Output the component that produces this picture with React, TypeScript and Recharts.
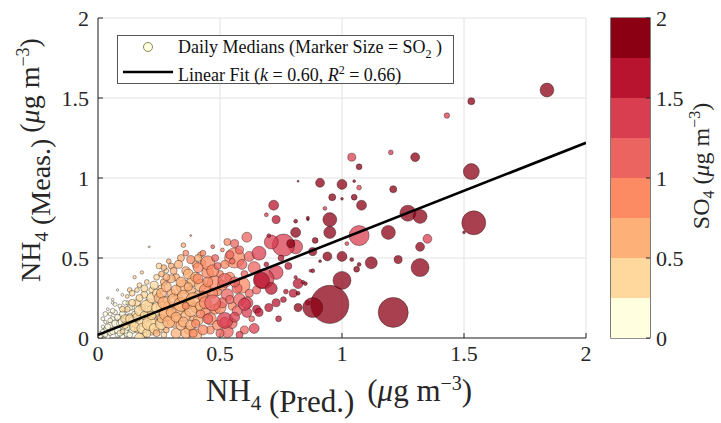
import React from 'react';
import {
  ScatterChart, Scatter, XAxis, YAxis, ZAxis, CartesianGrid, Cell,
  BarChart, Bar, ReferenceArea,
} from 'recharts';

// ---------- data: [NH4 predicted, NH4 measured, SO4, SO2] ----------
const cream = [
  [0.01,0.03,0.05,0.03],[0.02,0.02,0.06,0.04],[0.02,0.07,0.07,0.03],[0.03,0.05,0.08,0.06],
  [0.03,0.10,0.08,0.03],[0.04,0.01,0.10,0.06],[0.04,0.18,0.10,0.02],[0.05,0.08,0.12,0.09],
  [0.05,0.03,0.12,0.06],[0.05,0.15,0.12,0.04],[0.06,0.12,0.14,0.06],[0.06,0.24,0.14,0.02],
  [0.07,0.05,0.15,0.09],[0.07,0.16,0.15,0.06],[0.08,0.02,0.16,0.06],[0.08,0.09,0.16,0.13],
  [0.09,0.13,0.18,0.09],[0.09,0.20,0.18,0.04],[0.10,0.06,0.19,0.09],[0.10,0.01,0.19,0.06],
  [0.11,0.10,0.20,0.09],[0.11,0.17,0.20,0.06],[0.12,0.03,0.21,0.13],[0.12,0.22,0.21,0.04],
  [0.13,0.08,0.22,0.09],[0.13,0.14,0.22,0.06],[0.14,0.05,0.23,0.13],[0.14,0.19,0.23,0.06],
  [0.15,0.11,0.24,0.09],[0.06,0.22,0.14,0.02],[0.04,0.25,0.10,0.015],[0.10,0.27,0.19,0.02],
  [0.08,0.30,0.16,0.015],[0.02,0.12,0.06,0.04],[0.03,0.15,0.07,0.06],[0.04,0.07,0.09,0.09],
  [0.05,0.11,0.11,0.06],[0.06,0.04,0.13,0.09],[0.06,0.17,0.13,0.06],[0.07,0.09,0.15,0.13],
  [0.07,0.21,0.15,0.04],[0.08,0.13,0.17,0.09],[0.08,0.05,0.17,0.13],[0.09,0.03,0.18,0.09],
  [0.09,0.09,0.18,0.13],[0.10,0.15,0.20,0.09],[0.11,0.05,0.21,0.13],[0.11,0.22,0.22,0.06],
  [0.12,0.12,0.22,0.17],[0.13,0.02,0.23,0.09],[0.13,0.19,0.23,0.09],[0.14,0.11,0.24,0.13],
  [0.03,0.02,0.07,0.06],[0.01,0.01,0.05,0.04],[0.02,0.04,0.06,0.06],[0.10,0.10,0.19,0.17],
  [0.12,0.07,0.21,0.13],
];
const lightPeach = [
  [0.10,0.04,0.30,0.06],[0.12,0.18,0.32,0.09],[0.13,0.30,0.34,0.06],[0.14,0.09,0.34,0.13],
  [0.15,0.15,0.36,0.09],[0.16,0.22,0.38,0.13],[0.16,0.05,0.36,0.09],[0.17,0.33,0.38,0.06],
  [0.18,0.11,0.40,0.38],[0.18,0.19,0.40,0.13],[0.19,0.02,0.40,0.09],[0.19,0.27,0.42,0.13],
  [0.20,0.08,0.42,0.17],[0.20,0.35,0.42,0.06],[0.21,0.14,0.44,0.26],[0.21,0.22,0.44,0.17],
  [0.22,0.04,0.44,0.13],[0.22,0.30,0.46,0.09],[0.23,0.17,0.46,0.51],[0.23,0.10,0.46,0.13],
  [0.24,0.38,0.48,0.09],[0.25,0.06,0.48,0.17],[0.25,0.13,0.48,0.09],[0.26,0.20,0.48,0.26],
  [0.26,0.31,0.49,0.13],[0.27,0.02,0.49,0.09],[0.28,0.24,0.49,0.13],[0.28,0.42,0.48,0.06],
  [0.15,0.38,0.36,0.03],[0.12,0.26,0.32,0.04],[0.18,0.41,0.40,0.03],[0.21,0.57,0.44,0.01],
  [0.11,0.12,0.28,0.17],[0.17,0.00,0.38,0.26],[0.13,0.12,0.30,0.17],[0.14,0.22,0.33,0.13],
  [0.15,0.07,0.34,0.26],[0.16,0.13,0.36,0.17],[0.17,0.17,0.38,0.26],[0.17,0.25,0.38,0.13],
  [0.18,0.06,0.40,0.26],[0.19,0.14,0.41,0.17],[0.19,0.31,0.42,0.13],[0.20,0.20,0.43,0.38],
  [0.20,0.03,0.42,0.17],[0.21,0.09,0.44,0.51],[0.22,0.25,0.45,0.26],[0.22,0.14,0.45,0.17],
  [0.23,0.33,0.46,0.17],[0.23,0.06,0.47,0.26],[0.24,0.19,0.47,0.26],[0.24,0.28,0.47,0.17],
  [0.25,0.45,0.48,0.09],[0.26,0.09,0.49,0.38],[0.27,0.16,0.49,0.26],[0.14,0.28,0.33,0.09],
  [0.16,0.30,0.36,0.06],[0.10,0.18,0.28,0.09],[0.11,0.08,0.29,0.13],
];
const peach = [
  [0.31,0.11,0.60,0.51],[0.32,0.03,0.62,0.26],[0.24,0.03,0.52,0.13],[0.26,0.12,0.55,0.17],
  [0.27,0.35,0.56,0.13],[0.28,0.05,0.58,0.09],[0.29,0.20,0.60,0.26],[0.30,0.28,0.62,0.17],
  [0.30,0.45,0.62,0.09],[0.32,0.38,0.64,0.13],[0.33,0.18,0.66,0.38],[0.33,0.25,0.66,0.17],
  [0.34,0.08,0.66,0.26],[0.34,0.50,0.68,0.13],[0.35,0.32,0.68,0.51],[0.36,0.14,0.70,0.26],
  [0.36,0.42,0.70,0.17],[0.37,0.22,0.70,0.38],[0.37,0.05,0.72,0.17],[0.38,0.29,0.72,0.26],
  [0.39,0.12,0.72,0.13],[0.39,0.36,0.74,0.38],[0.40,0.19,0.74,0.26],[0.40,0.46,0.74,0.13],
  [0.41,0.27,0.74,0.17],[0.42,0.52,0.74,0.09],[0.27,0.44,0.56,0.09],[0.29,0.48,0.58,0.06],
  [0.41,0.50,0.72,0.13],[0.43,0.47,0.73,0.09],[0.25,0.25,0.54,0.26],[0.28,0.15,0.58,0.51],
  [0.35,0.58,0.70,0.06],[0.26,0.28,0.52,0.26],[0.27,0.22,0.53,0.38],[0.28,0.32,0.55,0.26],
  [0.29,0.10,0.57,0.38],[0.30,0.16,0.59,0.26],[0.30,0.37,0.60,0.17],[0.31,0.24,0.61,0.38],
  [0.31,0.42,0.61,0.13],[0.32,0.13,0.62,0.26],[0.32,0.30,0.63,0.26],[0.33,0.46,0.64,0.17],
  [0.34,0.21,0.65,0.51],[0.34,0.35,0.66,0.26],[0.35,0.10,0.67,0.26],[0.35,0.26,0.67,0.38],
  [0.36,0.03,0.69,0.26],[0.37,0.40,0.69,0.26],[0.37,0.32,0.70,0.17],[0.38,0.17,0.71,0.38],
  [0.38,0.08,0.71,0.26],[0.39,0.24,0.72,0.51],[0.40,0.38,0.73,0.26],[0.40,0.02,0.73,0.38],
  [0.41,0.11,0.74,0.26],[0.42,0.33,0.74,0.38],[0.42,0.20,0.74,0.26],[0.28,0.38,0.55,0.13],
  [0.26,0.40,0.52,0.09],
];
const salmon = [
  [0.56,0.50,0.85,1.05],[0.59,0.33,0.78,0.67],[0.48,0.34,0.80,0.67],[0.44,0.30,0.78,0.38],
  [0.45,0.41,0.82,0.38],[0.45,0.47,0.80,0.51],[0.38,0.49,0.76,0.17],[0.51,0.55,0.90,0.04],
  [0.38,0.64,0.80,0.01],[0.44,0.16,0.82,0.26],[0.40,0.09,0.78,0.17],[0.41,0.37,0.80,0.26],
  [0.42,0.15,0.85,0.17],[0.43,0.26,0.88,0.26],[0.46,0.05,0.90,0.17],[0.48,0.18,0.92,0.26],
  [0.49,0.29,0.95,0.17],[0.50,0.40,0.96,0.13],[0.36,0.20,0.76,0.13],[0.39,0.03,0.80,0.17],
  [0.55,0.20,0.95,0.17],[0.43,0.53,0.85,0.09],[0.44,0.22,0.78,0.38],[0.45,0.35,0.80,0.26],
  [0.46,0.12,0.82,0.38],[0.47,0.28,0.85,0.26],[0.47,0.42,0.86,0.38],[0.49,0.08,0.88,0.26],
  [0.50,0.19,0.90,0.38],[0.51,0.33,0.92,0.26],[0.52,0.46,0.94,0.17],[0.54,0.38,0.96,0.26],
  [0.43,0.05,0.78,0.26],[0.41,0.44,0.77,0.26],[0.53,0.60,0.90,0.13],[0.36,0.53,0.76,0.09],
];
const coral = [
  [0.61,0.63,1.10,0.26],[0.64,0.44,1.20,0.38],[0.53,0.27,1.10,0.38],[0.52,0.36,1.05,0.51],
  [0.51,0.22,1.15,0.26],[0.47,0.22,1.10,0.67],[0.54,0.24,1.05,0.17],[0.53,0.04,1.20,0.38],
  [0.52,0.10,1.15,0.26],[0.50,0.03,1.10,0.17],[0.47,0.57,1.00,0.04],[0.56,0.59,1.10,0.17],
  [0.58,0.55,1.12,0.17],[0.60,0.40,1.18,0.13],[0.57,0.31,1.08,0.26],[0.62,0.28,1.22,0.17],
  [0.49,0.45,1.05,0.13],[0.45,0.12,1.02,0.26],[0.55,0.48,1.15,0.09],[0.63,0.12,1.22,0.09],
  [0.55,0.09,1.05,0.26],[0.56,0.35,1.08,0.26],[0.58,0.24,1.12,0.38],[0.59,0.46,1.15,0.26],
  [0.60,0.05,1.15,0.17],[0.62,0.51,1.20,0.26],[0.54,0.52,1.06,0.17],[0.57,0.17,1.10,0.26],
  [0.65,0.30,1.22,0.17],[0.48,0.50,1.02,0.13],
];
const rose = [
  [1.43,1.39,1.40,0.08],[1.20,1.16,1.38,0.06],[1.04,1.13,1.42,0.17],[1.07,0.94,1.45,0.06],
  [0.93,0.81,1.45,0.04],[1.07,0.64,1.45,1.05],[1.35,0.62,1.40,0.21],[1.02,0.59,1.45,0.04],
  [0.81,0.57,1.40,0.51],[0.87,0.42,1.45,0.02],[0.76,0.58,1.40,1.30],[0.69,0.77,1.48,0.04],
  [0.66,0.53,1.45,0.51],[0.73,0.41,1.30,0.51],[0.71,0.60,1.32,0.51],[0.68,0.37,1.30,1.05],
  [0.61,0.22,1.45,0.38],[0.61,0.16,1.40,0.26],[0.60,0.21,1.38,0.38],[0.52,0.11,1.35,0.67],
  [0.64,0.06,1.32,0.26],[0.58,0.02,1.30,0.13],[0.56,0.13,1.28,0.26],
];
const crimson = [
  [0.72,0.83,1.62,0.26],[0.73,0.74,1.60,0.17],[0.70,0.64,1.55,0.04],[0.71,0.31,1.58,0.38],
  [0.82,0.34,1.70,0.26],[0.76,0.24,1.62,0.09],[0.70,0.19,1.60,0.17],[0.65,0.18,1.52,0.17],
  [0.84,0.35,1.72,0.03],[0.81,0.38,1.70,0.03],[0.80,0.28,1.66,0.17],[0.73,0.22,1.62,0.17],
  [0.66,0.16,1.55,0.17],[0.67,0.36,1.55,0.67],[0.78,0.45,1.65,0.13],[0.75,0.50,1.60,0.09],
  [0.69,0.46,1.56,0.06],[0.77,0.29,1.66,0.06],[0.74,0.12,1.60,0.09],[0.86,0.22,1.72,0.06],
];
const darkRed = [
  [1.84,1.55,1.92,0.50],[1.53,1.48,1.85,0.13],[1.30,1.13,1.85,0.21],[1.07,1.07,1.80,0.09],
  [1.53,1.04,1.90,0.67],[0.91,0.97,1.82,0.21],[1.00,0.96,1.85,0.26],[1.05,0.98,1.78,0.02],
  [1.21,0.93,1.85,0.13],[0.96,0.88,1.80,0.13],[1.00,0.87,1.78,0.02],[1.05,0.88,1.80,0.09],
  [1.08,0.83,1.88,0.26],[0.86,0.74,1.76,0.015],[0.95,0.74,1.86,0.51],[1.27,0.78,1.90,0.67],
  [1.32,0.76,1.86,0.51],[1.54,0.72,1.92,1.50],[1.19,0.66,1.84,0.51],[0.95,0.66,1.80,0.38],
  [1.50,0.66,1.80,0.02],[1.32,0.57,1.85,0.21],[0.89,0.61,1.78,0.09],[0.88,0.54,1.76,0.17],
  [0.94,0.51,1.80,0.21],[1.00,0.51,1.85,0.26],[1.04,0.49,1.80,0.04],[0.91,0.48,1.78,0.02],
  [1.07,0.46,1.80,0.04],[1.06,0.43,1.80,0.09],[1.12,0.47,1.85,0.38],[1.23,0.49,1.85,0.17],
  [1.32,0.44,1.90,0.85],[0.88,0.42,1.76,0.04],[1.00,0.36,1.90,0.85],[0.85,0.34,1.76,0.04],
  [0.95,0.21,1.95,3.80],[0.88,0.19,1.90,1.05],[1.21,0.16,1.95,2.36],[0.82,0.19,1.80,0.17],
  [0.82,0.98,1.80,0.01],[0.81,0.66,1.78,0.26],[0.81,0.73,1.78,0.04],[0.82,0.28,1.76,0.04],
  [0.86,0.75,1.78,0.03],[0.79,0.59,1.76,0.17],
];

const axisTicks = [0, 0.5, 1, 1.5, 2];
const fitK = 0.60;
const fitB = 0.02;
const fitR2 = 0.66;
const fitRange = [0, 2];
const so4Edges = [0, 0.25, 0.5, 0.75, 1, 1.25, 1.5, 1.75, 2];
const so4Colors = ['#FFFFE0', '#FED89C', '#FDB077', '#FC8A63', '#EC6460', '#D93E50', '#B8142F', '#8C0014'];

// ---------- derived tables ----------
const allGroups = [cream, lightPeach, peach, salmon, coral, rose, crimson, darkRed];
const points = allGroups.flat().map(([pred, meas, so4, so2]) => ({ pred, meas, so4, so2 }));
const fitLine = fitRange.map((x) => ({ pred: x, meas: fitB + fitK * x, so2: 0 }));
const colorFor = (v: number) => {
  for (let i = so4Colors.length - 1; i >= 0; i--) if (v >= so4Edges[i]) return so4Colors[i];
  return so4Colors[0];
};
const cbRow: Record<string, number | string> = { name: 'cb' };
so4Colors.forEach((_, i) => { cbRow['s' + i] = so4Edges[i + 1] - so4Edges[i]; });
const cbData = [cbRow];

const FONT = '"Liberation Serif", "DejaVu Serif", serif';
const INK = '#262626';
const tickStyle = { fill: INK, fontSize: 22, fontFamily: FONT };

export default function App() {
  return (
    <div style={{ position: 'absolute', left: 0, top: 0, width: 721, height: 423, background: '#fff', overflow: 'hidden' }}>
      <div style={{ position: 'absolute', left: 0, top: 0 }}>
        <ScatterChart width={721} height={423} margin={{ top: 18, right: 135, bottom: 55, left: 0 }}>
          <CartesianGrid stroke="#e2e2e2" strokeWidth={1} />
          <XAxis type="number" dataKey="pred" domain={[0, 2]} ticks={axisTicks} height={30}
            tickSize={-5} tickMargin={12} axisLine={{ stroke: INK }} tickLine={{ stroke: INK }}
            tick={tickStyle} tickFormatter={(v) => String(v)} allowDataOverflow />
          <YAxis type="number" dataKey="meas" domain={[0, 2]} ticks={axisTicks} width={98}
            tickSize={-5} tickMargin={14} axisLine={{ stroke: INK }} tickLine={{ stroke: INK }}
            tick={tickStyle} tickFormatter={(v) => String(v)} allowDataOverflow />
          <XAxis xAxisId="top" orientation="top" type="number" domain={[0, 2]} ticks={axisTicks} height={0}
            tickSize={-5} tick={false} axisLine={{ stroke: INK }} tickLine={{ stroke: INK }} />
          <YAxis yAxisId="right" orientation="right" type="number" domain={[0, 2]} ticks={axisTicks} width={0}
            tickSize={-5} tick={false} axisLine={{ stroke: INK }} tickLine={{ stroke: INK }} />
          <ZAxis type="number" dataKey="so2" domain={[0, 4]} range={[0, 1200]} />
          <Scatter data={points} fill="#8C0014" fillOpacity={0.75} stroke="rgba(20,10,10,0.55)" strokeWidth={0.7}
            isAnimationActive={false}>
            {points.map((p, i) => <Cell key={i} fill={colorFor(p.so4)} />)}
          </Scatter>
          <Scatter data={fitLine} line={{ stroke: '#000', strokeWidth: 2.6 }} shape={() => <g />}
            isAnimationActive={false} />
        </ScatterChart>
      </div>

      {/* colorbar */}
      <div style={{ position: 'absolute', left: 0, top: 0 }}>
        <BarChart width={721} height={423} data={cbData} margin={{ top: 18, right: 31, bottom: 85, left: 611 }}
          barCategoryGap={0} barGap={0}>
          <XAxis dataKey="name" hide />
          <YAxis orientation="right" type="number" domain={[0, 2]} ticks={axisTicks} width={40}
            tickSize={-4} tickMargin={10} axisLine={false} tickLine={{ stroke: INK }}
            tick={{ ...tickStyle, textAnchor: 'start' }} tickFormatter={(v) => String(v)} />
          {so4Colors.map((c, i) => (
            <Bar key={i} dataKey={'s' + i} stackId="cb" fill={c} isAnimationActive={false} />
          ))}
          <ReferenceArea y1={0} y2={2} fill="none" stroke={INK} strokeWidth={1.2} ifOverflow="visible" />
        </BarChart>
      </div>

      {/* legend */}
      <div style={{ position: 'absolute', left: 117, top: 35, width: 335, height: 47, border: '1px solid #555', background: '#fff', fontFamily: FONT, fontSize: 18, color: '#111' }}>
        <svg width={70} height={47} style={{ position: 'absolute', left: 0, top: 0 }}>
          <circle cx={30} cy={11} r={4.5} fill="#FFFFE0" stroke="#8a8a5a" strokeWidth={1} />
          <line x1={5} y1={36} x2={55} y2={36} stroke="#000" strokeWidth={2.6} />
        </svg>
        <div style={{ position: 'absolute', left: 60, top: 0, whiteSpace: 'nowrap', lineHeight: '22px' }}>
          Daily Medians (Marker Size = SO<sub style={{ fontSize: 12 }}>2</sub> )
        </div>
        <div style={{ position: 'absolute', left: 60, top: 23, whiteSpace: 'nowrap', lineHeight: '22px' }}>
          Linear Fit (<i>k</i> = {fitK.toFixed(2)}, <i>R</i><sup style={{ fontSize: 12 }}>2</sup> = {fitR2.toFixed(2)})
        </div>
      </div>

      {/* x title */}
      <div style={{ position: 'absolute', left: 206, top: 372, whiteSpace: 'nowrap', fontFamily: FONT, fontSize: 31, color: INK }}>
        NH<span style={{ fontSize: 21, position: 'relative', top: 9 }}>4</span>
        <span style={{ position: 'relative', top: 11 }}> (Pred.)</span>
        <span style={{ marginLeft: 13 }}>(<i>μ</i>g m<sup style={{ fontSize: 20 }}>−3</sup>)</span>
      </div>

      {/* y title */}
      <div style={{ position: 'absolute', left: 30, top: 160, width: 0, height: 0 }}>
        <div style={{ position: 'absolute', left: 0, top: 0, transform: 'translate(-50%, -50%) rotate(-90deg)', whiteSpace: 'nowrap', fontFamily: FONT, fontSize: 28, color: INK }}>
          NH<span style={{ fontSize: 19, position: 'relative', top: 9 }}>4</span>
          <span style={{ position: 'relative', top: 11 }}> (Meas.)</span>
          <span style={{ marginLeft: 6 }}>(<i>μ</i>g m<sup style={{ fontSize: 18 }}>−3</sup>)</span>
        </div>
      </div>

      {/* colorbar title */}
      <div style={{ position: 'absolute', left: 702, top: 166, width: 0, height: 0 }}>
        <div style={{ position: 'absolute', left: 0, top: 0, transform: 'translate(-50%, -50%) rotate(-90deg)', whiteSpace: 'nowrap', fontFamily: FONT, fontSize: 24, color: INK }}>
          SO<sub style={{ fontSize: 16 }}>4</sub> (<i>μ</i>g m<sup style={{ fontSize: 16 }}>−3</sup>)
        </div>
      </div>
    </div>
  );
}
